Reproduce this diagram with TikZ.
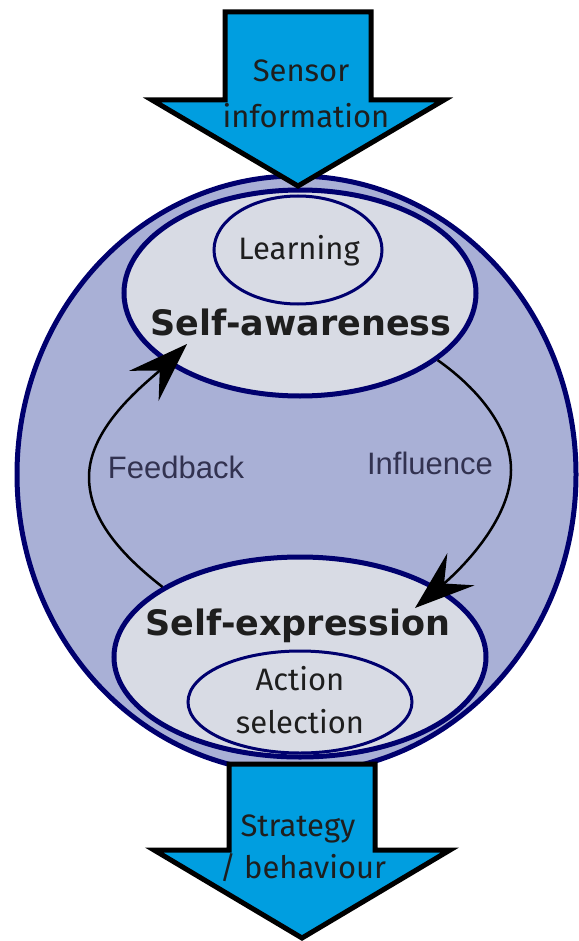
\documentclass[tikz,border=0pt]{standalone}
\usepackage{fontspec}
\setmainfont{Fira Sans}
\newfontfamily\titlefont{DejaVu Sans}
\newfontfamily\labelfont{Liberation Sans}
\usetikzlibrary{shapes.geometric,arrows.meta}
\definecolor{navy}{RGB}{0,0,110}
\definecolor{outerfill}{RGB}{169,176,214}
\definecolor{innerfill}{RGB}{216,219,228}
\definecolor{arrowblue}{RGB}{0,158,224}
\definecolor{txt}{RGB}{30,30,30}
\definecolor{lbl}{RGB}{50,50,80}
\tikzset{
  ell/.style={ellipse, draw=navy, inner sep=0pt},
  bigell/.style={ell, line width=5pt, fill=outerfill},
  mainell/.style={ell, line width=5pt, fill=innerfill},
  subell/.style={ell, line width=3pt, fill=innerfill},
  flowarrow/.style={draw=black, line width=5pt, fill=arrowblue, line join=miter},
  reg/.style={text=txt, font=\fontsize{31}{37}\selectfont, inner sep=0pt, anchor=base},
  title/.style={text=txt, font=\titlefont\bfseries\fontsize{35}{41}\selectfont, inner sep=0pt, anchor=base},
  lab/.style={text=lbl, font=\labelfont\fontsize{31}{37}\selectfont, inner sep=0pt, anchor=base},
  conn/.style={draw=black, line width=2.5pt, -{Stealth[length=60pt,width=42pt,inset=22pt]}}
}
\begin{document}
\begin{tikzpicture}[x=1pt,y=-1pt]
\useasboundingbox (0,0) rectangle (578,941);
% ellipses
\node[bigell, minimum width=559pt, minimum height=597pt] (outer) at (296.5,474.5) {};
\node[mainell, minimum width=352pt, minimum height=206pt] (sa) at (300,293) {};
\node[subell, minimum width=168pt, minimum height=108pt] (learn) at (298,250) {};
\node[mainell, minimum width=372pt, minimum height=200pt] (se) at (300,657) {};
\node[subell, minimum width=224pt, minimum height=102pt] (act) at (300,702) {};
% texts in ellipses
\node[reg] (learnt) at (299,259) {Learning};
\node[title] (sat) at (301,335) {Self-awareness};
\node[title] (set) at (298,635) {Self-expression};
\node[reg] (actt1) at (300,690) {Action};
\node[reg] (actt2) at (300,733) {selection};
% connectors
\coordinate (fbTip) at (187,344);
\coordinate (infTip) at (415,608);
\draw[conn] (se.153) .. controls (115,550) and (89,515) .. (89,477)
  .. controls (89,425) and (150,380) .. (fbTip);
\draw[conn] (sa.334) .. controls (480,390) and (511,430) .. (511,470)
  .. controls (511,520) and (460,570) .. (infTip);
\node[lab] (fb) at (176,478) {Feedback};
\node[lab] (inf) at (430,474) {Influence};
% flow arrows
\draw[flowarrow] (225,12) -- (371,12) -- (371,100) -- (444,100) -- (298,186) -- (152,100) -- (225,100) -- cycle;
\draw[flowarrow] (229,764) -- (375,764) -- (375,850) -- (450,850) -- (302,938) -- (154,850) -- (229,850) -- cycle;
\node[reg] (sens1) at (301,82) {Sensor};
\node[reg] (sens2) at (306,128) {information};
\node[reg] (str1) at (298,836) {Strategy};
\node[reg] (str2) at (303,878) {/ behaviour};
\end{tikzpicture}
\end{document}
